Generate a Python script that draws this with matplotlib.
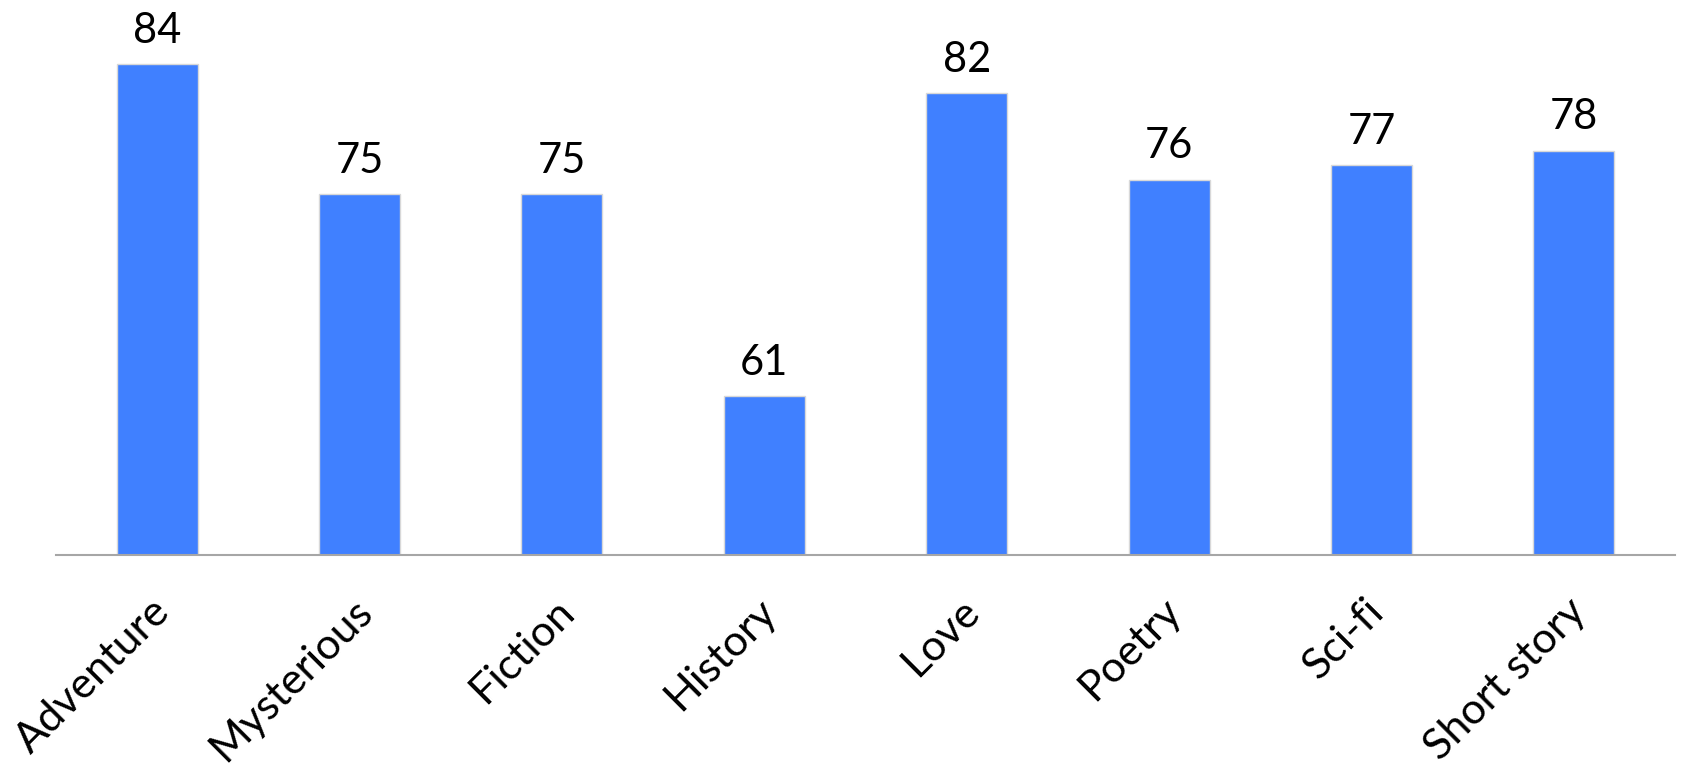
import matplotlib.pyplot as plt
import matplotlib.transforms as mtransforms
import numpy as np

genres = ['Adventure', 'Mysterious', 'Fiction', 'History', 'Love', 'Poetry', 'Sci-fi', 'Short story']
scores = [84, 75, 75, 61, 82, 76, 77, 78]

W, H = 1683, 775
fig = plt.figure(figsize=(W / 100, H / 100), dpi=100)
# axes spans the category area; baseline sits at y=555 px
ax = fig.add_axes([56 / W, (H - 555) / H, (1675 - 56) / W, 555 / H])

x = np.arange(len(genres))
ax.bar(x, scores, width=0.4, color='#4080FF', edgecolor='#D8D8D8', linewidth=1.0, zorder=2)

for xi, v in zip(x, scores):
    ax.text(xi, v + 1.5, str(v), ha='center', va='baseline', fontsize=30,
            family='Lato', color='black')

ax.set_xlim(-0.5, len(genres) - 0.5)
ax.set_ylim(50, 50 + 555 / 14.43)

for s in ['top', 'right', 'left']:
    ax.spines[s].set_visible(False)
ax.spines['bottom'].set_color('#A6A6A6')
ax.spines['bottom'].set_linewidth(1.5)
ax.set_yticks([])
ax.set_xticks(x)
ax.set_xticklabels(genres, rotation=45, ha='right', va='center', rotation_mode='anchor',
                   fontsize=31, family='Lato')
ax.tick_params(axis='x', length=0, pad=36)
shift = mtransforms.ScaledTranslation(6 / 100, 0, fig.dpi_scale_trans)
for lab in ax.get_xticklabels():
    lab.set_transform(lab.get_transform() + shift)

fig.savefig('out.png', dpi=100, facecolor='white')
